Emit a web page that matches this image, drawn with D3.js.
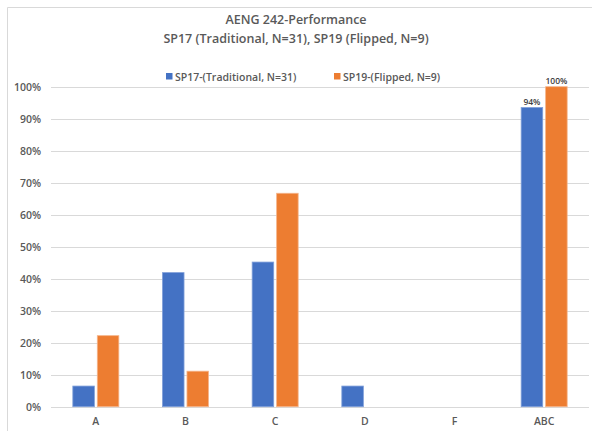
<!DOCTYPE html>
<html>
<head>
<meta charset="utf-8">
<script src="https://cdn.jsdelivr.net/npm/d3@7"></script>
<style>
  html, body { margin: 0; padding: 0; background: #fff; }
  svg { display: block; }
  text { font-family: "Open Sans", "Noto Sans", sans-serif; }
</style>
</head>
<body>
<svg id="chart" width="592" height="431"></svg>
<script>
const titleLines = ["AENG 242-Performance", "SP17 (Traditional, N=31), SP19 (Flipped, N=9)"];
const categories = ["A", "B", "C", "D", "F", "ABC"];
const seriesNames = ["SP17-(Traditional, N=31)", "SP19-(Flipped, N=9)"];
const sp17Values = [0.0645, 0.419, 0.452, 0.0645, 0, 0.935];
const sp19Values = [0.222, 0.111, 0.667, 0, 0, 1.0];
const yTicks = [0, 0.1, 0.2, 0.3, 0.4, 0.5, 0.6, 0.7, 0.8, 0.9, 1.0];
const labeledCategories = ["ABC"];
const colors = ["#4472C4", "#ED7D31"];
const strokeColors = ["#7f9fd9", "#f5b48a"];

const svg = d3.select("#chart");
const W = 592, H = 431;
const margin = { left: 51, right: 3, top: 86.7, bottom: 24.3 };

// chart border (partially visible)
svg.append("path")
  .attr("d", `M7.5,${H} L7.5,7.5 L${W},7.5`)
  .attr("fill", "none").attr("stroke", "#d9d9d9").attr("stroke-width", 1);

// title
svg.append("text").attr("x", 296).attr("y", 24).attr("text-anchor", "middle")
  .attr("font-size", 12.5).attr("font-weight", 600).attr("fill", "#595959").text(titleLines[0]);
svg.append("text").attr("x", 296).attr("y", 43).attr("text-anchor", "middle")
  .attr("font-size", 12.5).attr("font-weight", 600).attr("fill", "#595959").text(titleLines[1]);

const x0 = d3.scaleBand().domain(categories).range([margin.left, W - margin.right]).padding(0);
const y = d3.scaleLinear().domain([0, 1]).range([H - margin.bottom, margin.top]);
const bw = x0.bandwidth();
const x1 = d3.scaleBand().domain([0, 1]).range([bw / 2 - 23, bw / 2 + 23]).paddingInner(0.12);

// gridlines
svg.append("g").selectAll("line").data(yTicks).join("line")
  .attr("x1", margin.left).attr("x2", W - margin.right)
  .attr("y1", d => Math.round(y(d)) + 0.5).attr("y2", d => Math.round(y(d)) + 0.5)
  .attr("stroke", "#d9d9d9").attr("stroke-width", 1);

// y axis
const yAxis = svg.append("g").attr("transform", `translate(${margin.left - 10},0)`)
  .call(d3.axisLeft(y).tickValues(yTicks).tickFormat(d3.format(".0%")).tickSize(0).tickPadding(0));
yAxis.select(".domain").remove();
yAxis.selectAll("text").attr("font-size", 10.5).attr("font-weight", 600).attr("fill", "#595959")
  .attr("font-family", "'Open Sans', sans-serif");

// x axis
const xAxis = svg.append("g").attr("transform", `translate(0,${H - margin.bottom})`)
  .call(d3.axisBottom(x0).tickSize(0).tickPadding(11));
xAxis.select(".domain").remove();
xAxis.selectAll("text").attr("font-size", 10.5).attr("font-weight", 600).attr("fill", "#595959")
  .attr("font-family", "'Open Sans', sans-serif");

// bars
const seriesValues = [sp17Values, sp19Values];
const rows = categories.map((c, i) => ({ cat: c, vals: seriesValues.map(s => s[i]) }));
const groups = svg.append("g").selectAll("g").data(rows).join("g")
  .attr("transform", d => `translate(${x0(d.cat)},0)`);
groups.selectAll("rect").data(d => d.vals.map((v, k) => ({ v, k }))).join("rect")
  .filter(d => d.v > 0)
  .attr("x", d => x1(d.k)).attr("width", x1.bandwidth())
  .attr("y", d => y(d.v)).attr("height", d => y(0) - y(d.v))
  .attr("fill", d => colors[d.k]).attr("stroke", d => strokeColors[d.k]).attr("stroke-width", 0.8);

// data labels
groups.filter(d => labeledCategories.includes(d.cat)).selectAll("text.lbl")
  .data(d => d.vals.map((v, k) => ({ v, k }))).join("text")
  .attr("class", "lbl")
  .attr("x", d => x1(d.k) + x1.bandwidth() / 2).attr("y", d => y(d.v) - 2.5)
  .attr("text-anchor", "middle").attr("font-size", 8.5).attr("font-weight", 600).attr("fill", "#404040")
  .text(d => d3.format(".0%")(d.v));

// legend
const legendX = [166, 334];
const legend = svg.append("g").selectAll("g").data(seriesNames).join("g")
  .attr("transform", (d, i) => `translate(${legendX[i]},77)`);
legend.append("rect").attr("x", 0).attr("y", -4).attr("width", 6.5).attr("height", 6.5)
  .attr("fill", (d, i) => colors[i]);
legend.append("text").attr("x", 9).attr("y", 0).attr("dy", "0.35em")
  .attr("font-size", 10.5).attr("font-weight", 600).attr("fill", "#595959").text(d => d);
</script>
</body>
</html>
